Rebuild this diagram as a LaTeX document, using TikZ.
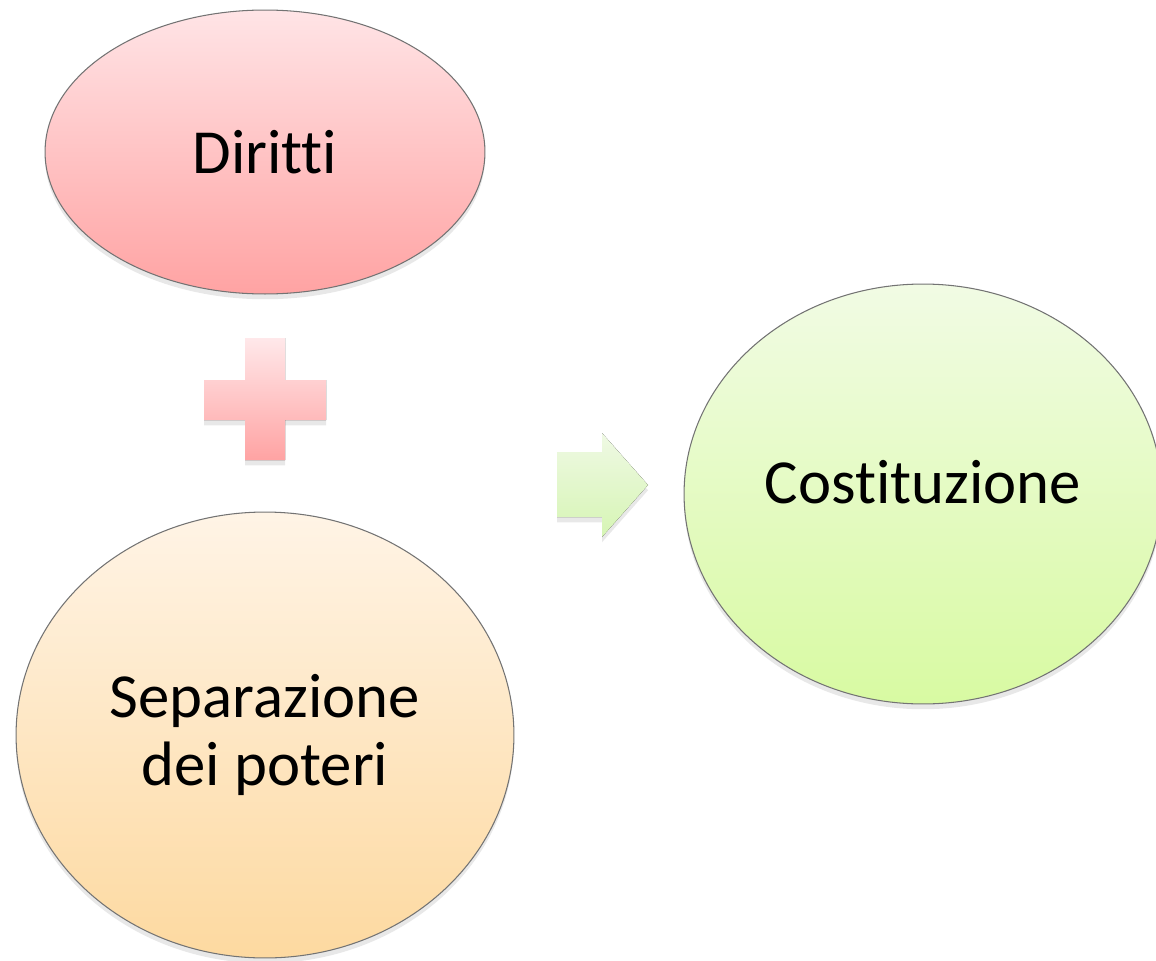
\documentclass[tikz,border=0pt]{standalone}
\usepackage{fontspec}
\setmainfont{Carlito}[Ligatures={NoCommon,NoRequired,NoContextual}]
\usetikzlibrary{shapes.geometric}
\usetikzlibrary{shadows}

\definecolor{dirTop}{HTML}{FFE4E6}
\definecolor{dirBot}{HTML}{FFA3A3}
\definecolor{sepTop}{HTML}{FFF4E6}
\definecolor{sepBot}{HTML}{FDD9A0}
\definecolor{cosTop}{HTML}{F1FBE4}
\definecolor{cosBot}{HTML}{D8FAA2}
\definecolor{arrTop}{HTML}{EFF9E4}
\definecolor{arrBot}{HTML}{D6F5B4}

\tikzset{
  blob/.style={ellipse, draw=black!55, line width=0.6pt, inner sep=0pt, align=center,
    font=\fontsize{35.7}{38.5}\selectfont,
    drop shadow={opacity=0.18, shadow xshift=0pt, shadow yshift=-3pt}},
  flat/.style={drop shadow={opacity=0.18, shadow xshift=0pt, shadow yshift=-3pt}}
}

\begin{document}
\begin{tikzpicture}[x=0.02cm, y=-0.02cm]
  \useasboundingbox (0,0) rectangle (1156,960);
  \node[blob, top color=dirTop, bottom color=dirBot, minimum width=8.8cm, minimum height=5.68cm] (diritti) at (265,152) {Diritti};
  \node[blob, top color=sepTop, bottom color=sepBot, minimum width=9.96cm, minimum height=8.92cm] (separ) at (265,735) {Separazione\\dei poteri};
  \node[blob, top color=cosTop, bottom color=cosBot, minimum width=9.56cm, minimum height=8.4cm, text depth=13.6pt] (costit) at (923,494) {Costituzione};
  % plus sign between the two left shapes
  \fill[flat, top color=dirTop!85!white, bottom color=dirBot] (245,338) -- (285,338) -- (285,380) -- (326,380) -- (326,420) -- (285,420) -- (285,460) -- (245,460) -- (245,420) -- (204,420) -- (204,380) -- (245,380) -- cycle;
  % block arrow
  \fill[flat, top color=arrTop, bottom color=arrBot] (557,452) -- (602,452) -- (602,433) -- (648,485) -- (602,537) -- (602,517) -- (557,517) -- cycle;
\end{tikzpicture}
\end{document}
